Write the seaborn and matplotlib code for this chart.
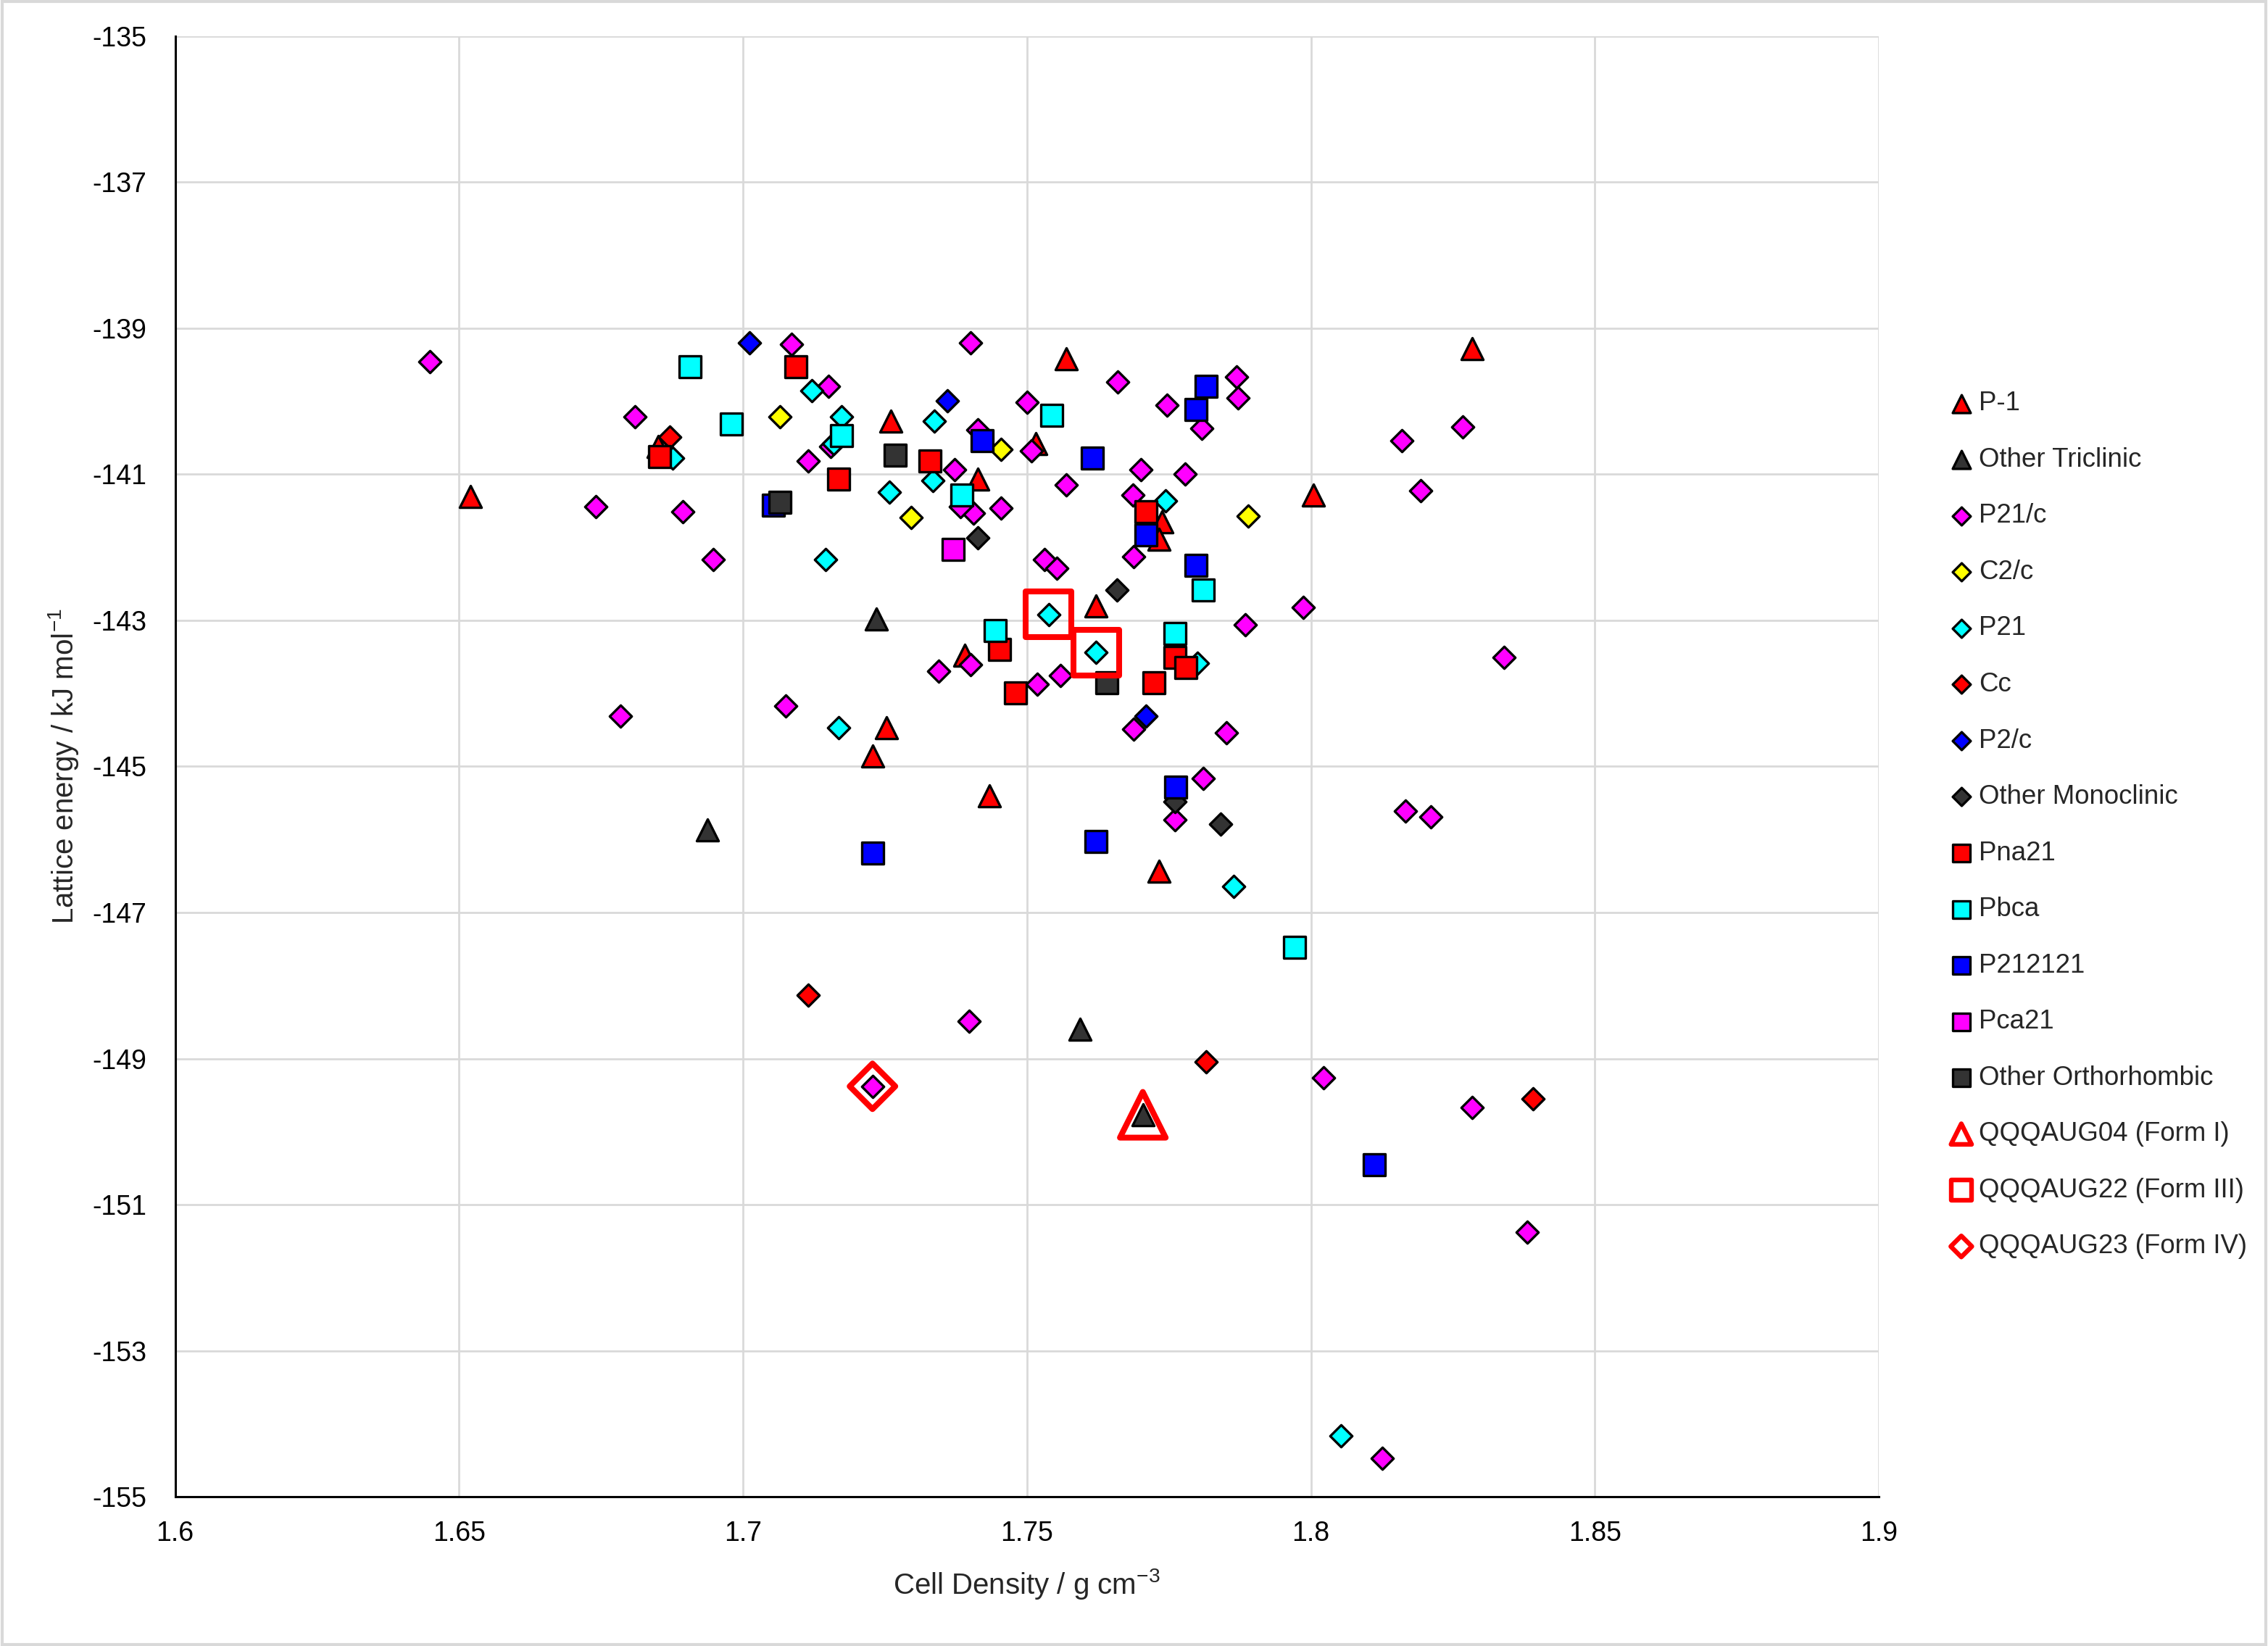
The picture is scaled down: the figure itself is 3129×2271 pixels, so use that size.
import matplotlib
matplotlib.use('Agg')
import matplotlib.pyplot as plt
import matplotlib.patches as patches
import seaborn as sns

### DATA (cell density g/cm3, lattice energy kJ/mol) ###
p1_x = [1.652, 1.685, 1.726, 1.7515, 1.7413, 1.7569, 1.739, 1.7253, 1.7228, 1.7434,
        1.7622, 1.7737, 1.7732, 1.7732, 1.8004, 1.8284]
p1_y = [-141.30, -140.62, -140.27, -140.58, -141.06, -139.42, -143.48, -144.47, -144.86, -145.40,
        -142.80, -141.65, -141.89, -146.43, -141.28, -139.28]

tri_other_x = [1.7235, 1.6937, 1.7594, 1.7704]
tri_other_y = [-142.98, -145.87, -148.60, -149.77]

p21c_x = [1.6448, 1.681, 1.6741, 1.6894, 1.6947, 1.6784, 1.7085, 1.7151, 1.7115, 1.7075,
          1.7401, 1.7413, 1.75, 1.7508, 1.766, 1.7701, 1.7747, 1.7869, 1.7872, 1.7808,
          1.7778, 1.7569, 1.7686, 1.7688, 1.7531, 1.7553, 1.7373, 1.7454, 1.7406, 1.7383,
          1.7986, 1.7885, 1.816, 1.8267, 1.8193, 1.834, 1.8167, 1.8211, 1.7345, 1.7401,
          1.7518, 1.7559, 1.7688, 1.7851, 1.7811, 1.776, 1.7398, 1.8022, 1.8284, 1.8381,
          1.8126, 1.7228, 1.7154]
p21c_y = [-139.46, -140.21, -141.44, -141.51, -142.17, -144.31, -139.22, -139.79, -140.82, -144.17,
          -139.20, -140.39, -140.01, -140.68, -139.73, -140.94, -140.05, -139.67, -139.95, -140.37,
          -141.00, -141.14, -141.28, -142.13, -142.17, -142.29, -140.94, -141.46, -141.53, -141.44,
          -142.82, -143.06, -140.54, -140.35, -141.22, -143.51, -145.61, -145.69, -143.69, -143.61,
          -143.87, -143.75, -144.49, -144.54, -145.16, -145.73, -148.49, -149.26, -149.67, -151.38,
          -154.47, -149.38, -140.62]

c2c_x = [1.7065, 1.7296, 1.7454, 1.789]
c2c_y = [-140.21, -141.59, -140.66, -141.57]

p21_x = [1.6876, 1.7121, 1.7174, 1.7159, 1.7146, 1.7258, 1.7337, 1.7334, 1.7744, 1.7538,
         1.7622, 1.78, 1.7169, 1.7864, 1.8053]
p21_y = [-140.78, -139.85, -140.21, -140.58, -142.17, -141.24, -140.27, -141.08, -141.36, -142.92,
         -143.44, -143.59, -144.47, -146.64, -154.17]

cc_x = [1.6871, 1.7115, 1.7816, 1.8391]
cc_y = [-140.49, -148.13, -149.04, -149.55]

p2c_x = [1.7011, 1.736, 1.7709]
p2c_y = [-139.20, -139.99, -144.31]

mono_other_x = [1.7413, 1.7658, 1.776, 1.7841]
mono_other_y = [-141.87, -142.58, -145.48, -145.79]

pna21_x = [1.6853, 1.7093, 1.7169, 1.7329, 1.7452, 1.748, 1.7709, 1.7724, 1.776, 1.778]
pna21_y = [-140.76, -139.53, -141.06, -140.82, -143.40, -143.99, -141.51, -143.85, -143.51, -143.65]

pbca_x = [1.6907, 1.698, 1.7174, 1.7385, 1.7543, 1.7444, 1.776, 1.7811, 1.7971]
pbca_y = [-139.53, -140.31, -140.47, -141.28, -140.19, -143.14, -143.18, -142.58, -147.48]

p212121_x = [1.7054, 1.7421, 1.7615, 1.7816, 1.7798, 1.7709, 1.7798, 1.7762, 1.7228, 1.7622, 1.8111]
p212121_y = [-141.42, -140.54, -140.78, -139.79, -140.11, -141.83, -142.25, -145.28, -146.19, -146.03, -150.45]

pca21_x = [1.737]
pca21_y = [-142.03]

ortho_other_x = [1.7065, 1.7268, 1.764]
ortho_other_y = [-141.38, -140.74, -143.85]

form1_x = [1.7704]
form1_y = [-149.77]
form3_x = [1.7538, 1.7622]
form3_y = [-142.92, -143.44]
form4_x = [1.7228]
form4_y = [-149.38]

### STYLE ###
sns.set_style('white')
plt.rcParams['font.family'] = ['Liberation Sans', 'DejaVu Sans']
plt.rcParams['mathtext.default'] = 'regular'
plt.rcParams['axes.unicode_minus'] = False

fig, ax = plt.subplots(figsize=(15.645, 11.355), dpi=200)
fig.subplots_adjust(left=0.0772, right=0.8284, bottom=0.0907, top=0.978)

DARK = '#333333'
S_TRI, S_SQ, S_DIA = 118, 118, 60
LW = 1.2

## series: (label, x, y, marker, size, color)
series = [
    ('P-1', p1_x, p1_y, '^', S_TRI, 'red'),
    ('Other Triclinic', tri_other_x, tri_other_y, '^', S_TRI, DARK),
    ('P21/c', p21c_x, p21c_y, 'D', S_DIA, 'magenta'),
    ('C2/c', c2c_x, c2c_y, 'D', S_DIA, 'yellow'),
    ('P21', p21_x, p21_y, 'D', S_DIA, 'cyan'),
    ('Cc', cc_x, cc_y, 'D', S_DIA, 'red'),
    ('P2/c', p2c_x, p2c_y, 'D', S_DIA, 'blue'),
    ('Other Monoclinic', mono_other_x, mono_other_y, 'D', S_DIA, DARK),
    ('Pna21', pna21_x, pna21_y, 's', S_SQ, 'red'),
    ('Pbca', pbca_x, pbca_y, 's', S_SQ, 'cyan'),
    ('P212121', p212121_x, p212121_y, 's', S_SQ, 'blue'),
    ('Pca21', pca21_x, pca21_y, 's', S_SQ, 'magenta'),
    ('Other Orthorhombic', ortho_other_x, ortho_other_y, 's', S_SQ, DARK),
]
for label, xs, ys, mk, s, col in series:
    sns.scatterplot(x=xs, y=ys, marker=mk, s=s, color=col, edgecolor='black',
                    linewidth=LW, label=label, ax=ax)

# known forms, hollow red outlines
highlights = [
    ('QQQAUG04 (Form I)', form1_x, form1_y, '^', 515),
    ('QQQAUG22 (Form III)', form3_x, form3_y, 's', 515),
    ('QQQAUG23 (Form IV)', form4_x, form4_y, 'D', 256),
]
for label, xs, ys, mk, s in highlights:
    sns.scatterplot(x=xs, y=ys, marker=mk, s=s, color='none', edgecolor='red',
                    linewidth=2.9, label=label, ax=ax)

### AXES ###
ax.set_xlim(1.6, 1.9)
ax.set_ylim(-155, -135)
ax.set_xticks([1.6, 1.65, 1.7, 1.75, 1.8, 1.85, 1.9])
ax.set_xticklabels(['1.6', '1.65', '1.7', '1.75', '1.8', '1.85', '1.9'])
ax.set_yticks(range(-155, -134, 2))
ax.set_yticklabels([str(v) for v in range(-155, -134, 2)])
ax.tick_params(axis='both', length=0, labelsize=13.5, colors='black')
ax.tick_params(axis='y', pad=14)
ax.tick_params(axis='x', pad=12)
ax.grid(True, color='#d9d9d9', linewidth=1.0)
ax.set_axisbelow(True)
for side in ['top', 'right']:
    ax.spines[side].set_visible(False)
for side in ['left', 'bottom']:
    ax.spines[side].set_color('black')
    ax.spines[side].set_linewidth(1.1)

ax.set_xlabel('Cell Density / g cm$^{-3}$', fontsize=14.5, labelpad=10)
ax.set_ylabel('Lattice energy / kJ mol$^{-1}$', fontsize=14.5, labelpad=6)

### LEGEND ###
leg = ax.legend(loc='upper left', bbox_to_anchor=(0.8595, 0.7625), bbox_transform=fig.transFigure,
                frameon=False, fontsize=13.2, handlelength=0.9, handletextpad=0.2,
                labelspacing=1.16, borderpad=0, borderaxespad=0)
for h, text in zip(leg.legend_handles, leg.get_texts()):
    lbl = text.get_text()
    if lbl.startswith('QQQ'):
        h.set_sizes([105 if 'Form IV' not in lbl else 55])
        h.set_linewidth(2.3)
    elif lbl in ('P-1', 'Other Triclinic', 'Pna21', 'Pbca', 'P212121', 'Pca21', 'Other Orthorhombic'):
        h.set_sizes([80])
    else:
        h.set_sizes([40])

# light grey outer border of the chart area
fig.patches.append(patches.Rectangle((0.001, 0.001), 0.998, 0.998, transform=fig.transFigure,
                                     fill=False, edgecolor='#d9d9d9', linewidth=1.5))

fig.savefig('out.png', dpi=200, facecolor='white')
